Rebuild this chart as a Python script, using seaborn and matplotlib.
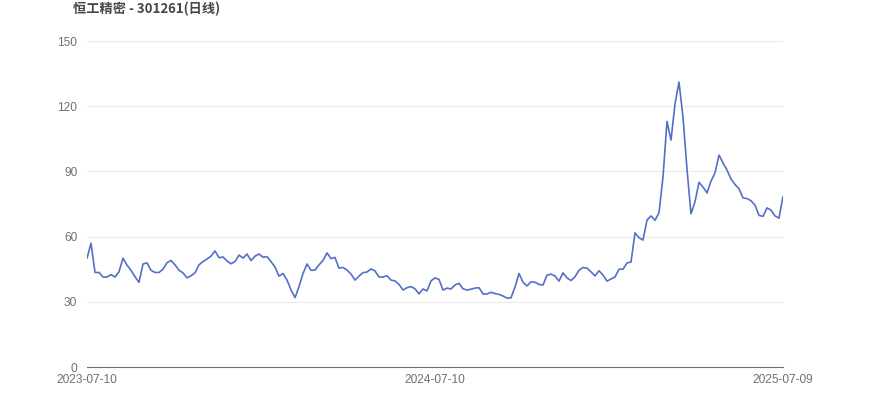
import matplotlib
matplotlib.use('Agg')
import matplotlib.pyplot as plt
import seaborn as sns
import pandas as pd
import numpy as np

# daily close (sampled off the chart), 2023-07-10 .. 2025-07-09
close = [
    50.0, 57.0, 43.5, 43.5, 41.4, 41.4, 42.5, 41.4, 43.8, 50.1,
    46.9, 44.5, 41.5, 39.0, 47.4, 47.9, 44.5, 43.5, 43.5, 45.0,
    48.0, 49.0, 47.0, 44.5, 43.3, 41.0, 42.0, 43.3, 47.0, 48.5,
    49.7, 51.0, 53.4, 50.3, 50.6, 48.8, 47.5, 48.5, 51.5, 50.1,
    52.0, 49.0, 51.0, 52.0, 50.5, 50.8, 48.5, 46.0, 41.8, 43.0,
    40.0, 35.5, 31.9, 37.0, 43.0, 47.4, 44.5, 44.6, 47.0, 49.0,
    52.5, 49.9, 50.4, 45.5, 45.8, 44.6, 42.8, 40.0, 41.8, 43.4,
    43.7, 45.1, 44.2, 41.4, 41.4, 42.0, 40.0, 39.6, 38.0, 35.4,
    36.5, 37.0, 36.0, 33.6, 35.9, 35.0, 39.6, 41.0, 40.3, 35.4,
    36.3, 35.9, 37.7, 38.5, 36.0, 35.4, 35.8, 36.3, 36.5, 33.6,
    33.6, 34.4, 33.8, 33.4, 32.7, 31.7, 31.8, 36.8, 43.0, 39.0,
    37.3, 39.2, 39.0, 38.0, 37.7, 42.3, 42.7, 41.9, 39.5, 43.3,
    41.0, 39.8, 41.5, 44.5, 45.8, 45.5, 43.8, 41.9, 44.3, 42.3,
    39.5, 40.5, 41.4, 45.0, 45.0, 47.9, 48.3, 61.7, 59.5, 58.4,
    67.6, 69.5, 67.5, 71.0, 87.4, 113.0, 104.4, 121.0, 131.1, 115.0,
    91.0, 70.5, 76.0, 85.0, 82.8, 80.1, 85.5, 89.3, 97.5, 93.9,
    90.6, 86.5, 84.0, 82.0, 77.8, 77.5, 76.5, 74.5, 69.8, 69.3,
    73.2, 72.2, 69.5, 68.5, 78.5,
]
date_labels = ['2023-07-10', '2024-07-10', '2025-07-09']
y_ticks = [0, 30, 60, 90, 120, 150]
title = '恒工精密 - 301261(日线)'

sns.set_style('white')
plt.rcParams['font.family'] = ['Liberation Sans', 'Noto Sans CJK SC', 'DejaVu Sans']

df = pd.DataFrame({'idx': np.arange(len(close)), 'close': close})
n = len(close)

fig = plt.figure(figsize=(8.7, 4.17), dpi=100)
ax = fig.add_axes([87 / 870, 1 - 367 / 417, 696 / 870, 326 / 417])

sns.lineplot(data=df, x='idx', y='close', ax=ax, color='#5470c6', linewidth=1.2)

ax.set_xlim(0, n - 1)
ax.set_ylim(0, 150)
ax.set_yticks(y_ticks)
ax.set_xticks([0, (n - 1) // 2, n - 1])
ax.set_xticklabels(date_labels)
ax.tick_params(axis='both', length=0, labelsize=8.6, labelcolor='#6e7079')
ax.tick_params(axis='y', pad=7)
ax.tick_params(axis='x', pad=5)
ax.set_xlabel('')
ax.set_ylabel('')

ax.grid(axis='y', color='#ececec', linewidth=0.8)
ax.grid(axis='x', visible=False)
for s in ['top', 'right', 'left']:
    ax.spines[s].set_visible(False)
ax.spines['bottom'].set_color('#6e7079')
ax.spines['bottom'].set_linewidth(0.8)
ax.set_axisbelow(True)

fig.text(73 / 870, 1 - 9 / 417, title, fontsize=9.5, fontweight='bold',
         color='#464646', va='center', ha='left',
         family=['Noto Sans CJK SC', 'DejaVu Sans'])

fig.savefig('out.png', dpi=100)
